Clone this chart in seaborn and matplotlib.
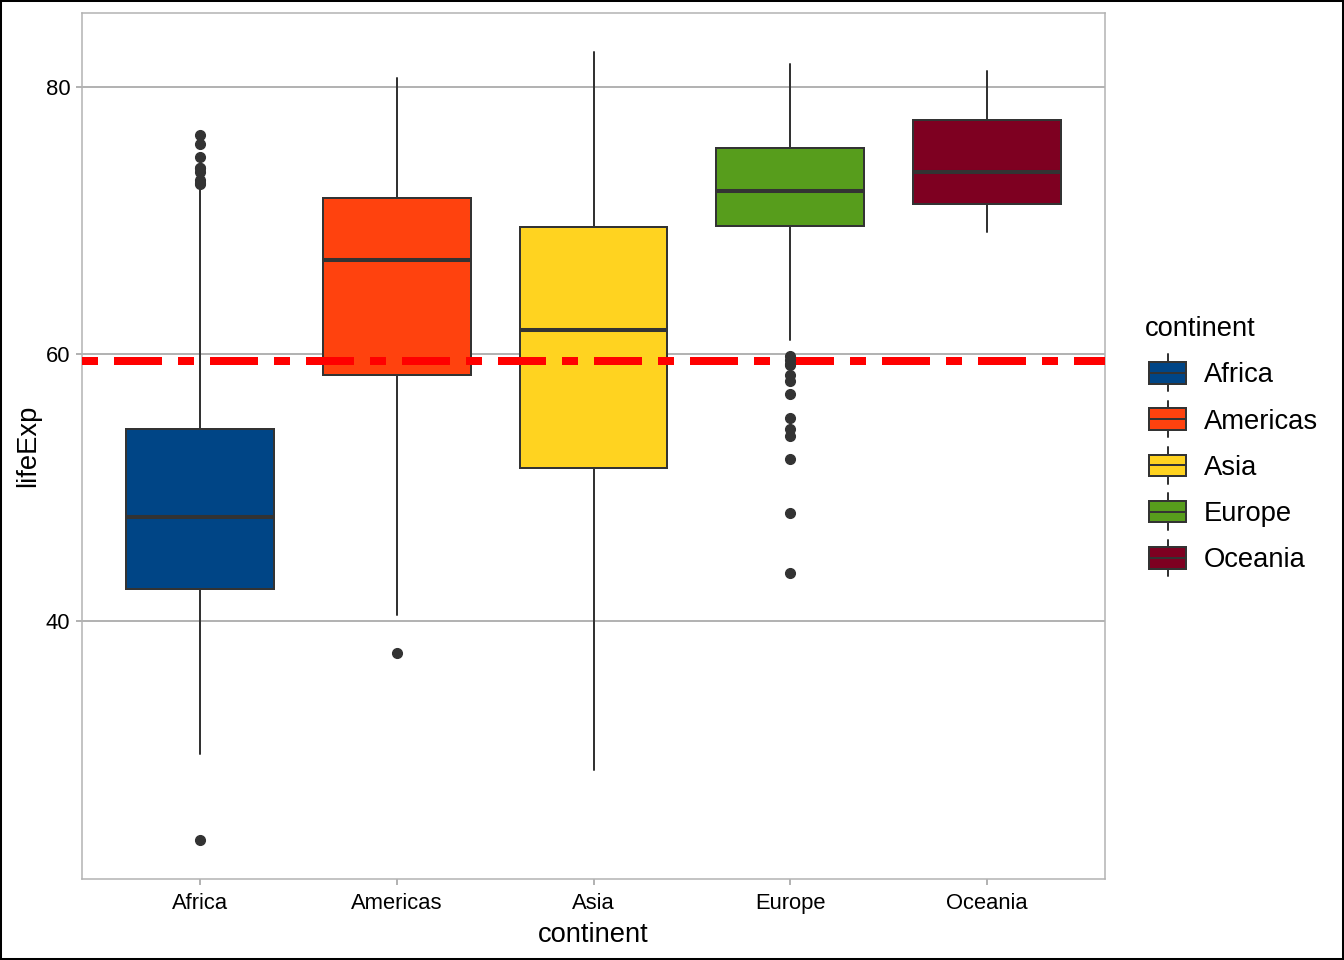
import numpy as np
import pandas as pd
import seaborn as sns
import matplotlib
matplotlib.use("Agg")
import matplotlib.pyplot as plt
from matplotlib.patches import Rectangle, Patch
from matplotlib.lines import Line2D
from matplotlib.legend_handler import HandlerBase

# ---- data (gapminder lifeExp by continent, box summaries) ----
continents = ["Africa", "Americas", "Asia", "Europe", "Oceania"]
q1 = [42.37, 58.41, 51.43, 69.57, 71.21]
medians = [47.79, 67.05, 61.79, 72.24, 73.67]
q3 = [54.41, 71.70, 69.51, 75.45, 77.55]
whisker_low = [30.00, 40.41, 28.80, 61.04, 69.12]
whisker_high = [72.39, 80.65, 82.60, 81.76, 81.24]
outliers_africa = [76.44, 75.74, 74.77, 73.95, 73.92, 73.62, 73.04, 72.80, 72.74, 23.60]
outliers_americas = [37.58]
outliers_asia = []
outliers_europe = [59.82, 59.51, 59.28, 59.16, 58.45, 58.00, 57.01, 55.23, 54.34,
                   53.82, 52.10, 48.08, 43.59]
outliers_oceania = []
mean_lifeexp = 59.47
fill_colors = ["#004586", "#FF420E", "#FFD320", "#579D1C", "#7E0021"]

# ---- style ----
sns.set_theme(style="white")
plt.rcParams["font.family"] = ["Liberation Sans", "DejaVu Sans"]
plt.rcParams["text.color"] = "black"

W, H = 1344, 960
fig = plt.figure(figsize=(W / 100, H / 100), dpi=100)
fig.patch.set_facecolor("white")
ax = fig.add_axes([82 / W, 81 / H, 1023 / W, 866 / H])
ax.set_facecolor("white")

outliers = [outliers_africa, outliers_americas, outliers_asia, outliers_europe, outliers_oceania]
stats = []
for i, name in enumerate(continents):
    stats.append(dict(label=name, q1=q1[i], med=medians[i], q3=q3[i],
                      whislo=whisker_low[i], whishi=whisker_high[i],
                      fliers=np.array(outliers[i])))

edge = "#333333"
bp = ax.bxp(stats, positions=range(1, len(continents) + 1), widths=0.75,
            patch_artist=True, showcaps=False,
            boxprops=dict(edgecolor=edge, linewidth=1.44, zorder=3),
            medianprops=dict(color=edge, linewidth=2.9, zorder=3.5, solid_capstyle="butt"),
            whiskerprops=dict(color=edge, linewidth=1.44, zorder=2.5),
            flierprops=dict(marker="o", markerfacecolor=edge, markeredgecolor=edge,
                            markersize=7, zorder=5))
for patch, c in zip(bp["boxes"], fill_colors):
    patch.set_facecolor(c)

hl = ax.axhline(mean_lifeexp, color="red", linewidth=5.76, zorder=4)
hl.set_dashes((2, 2, 6, 2))
hl.set_dash_capstyle("butt")

# axes limits like ggplot
all_vals = whisker_low + whisker_high + [v for o in outliers for v in o]
lo, hi = min(all_vals), max(all_vals)
pad = 0.05 * (hi - lo)
ax.set_ylim(lo - pad, hi + pad)
ax.set_xlim(0.4, len(continents) + 0.6)
ax.set_xticks(range(1, len(continents) + 1))
ax.set_xticklabels(continents)
ax.set_yticks([40, 60, 80])

ax.yaxis.grid(True, color="#B3B3B3", linewidth=1.44)
ax.xaxis.grid(False)
ax.set_axisbelow(True)
for s in ax.spines.values():
    s.set_visible(True)
    s.set_color("#B3B3B3")
    s.set_linewidth(1.1)

ax.tick_params(axis="both", bottom=True, left=True, length=4, width=1.44,
               color="#B3B3B3", labelsize=15.8, labelcolor="black")
ax.tick_params(axis="x", pad=6)
ax.tick_params(axis="y", pad=4.5)
ax.set_xlabel("continent", fontsize=19.7, color="black", labelpad=5.5)
ax.set_ylabel("lifeExp", fontsize=19.7, color="black", labelpad=3)


class BoxKey(HandlerBase):
    def create_artists(self, legend, orig_handle, xdescent, ydescent, width, height,
                       fontsize, trans):
        fc = orig_handle.get_facecolor()
        off = 2.9
        x0, y0 = -xdescent + off, -ydescent
        w = width - off
        ext = height * 0.35
        xm = x0 + w / 2
        w1 = Line2D([xm, xm], [y0 + height, y0 + height + ext], color=edge, lw=1.44,
                    transform=trans)
        w2 = Line2D([xm, xm], [y0 - ext, y0], color=edge, lw=1.44, transform=trans)
        rect = Rectangle((x0, y0), w, height, facecolor=fc, edgecolor=edge,
                         lw=1.44, transform=trans)
        med = Line2D([x0, x0 + w], [y0 + height / 2] * 2, color=edge, lw=1.44,
                     transform=trans)
        return [w1, w2, rect, med]


handles = [Patch(facecolor=c, label=n) for c, n in zip(fill_colors, continents)]
leg = fig.legend(handles=handles, labels=continents, title="continent",
                 loc="upper left", bbox_to_anchor=(1145 / W, (H - 316) / H),
                 frameon=False, fontsize=19.7, title_fontsize=19.7,
                 handler_map={Patch: BoxKey()}, handlelength=1.5, handleheight=0.84,
                 labelspacing=0.73, handletextpad=0.66, borderpad=0, borderaxespad=0,
                 alignment="left")
for t in leg.get_texts():
    t.set_color("black")
leg.get_title().set_color("black")

fig.patches.append(Rectangle((0, 0), 1, 1, transform=fig.transFigure, fill=False,
                             edgecolor="black", linewidth=2.9))

fig.savefig("out.png", dpi=100)
